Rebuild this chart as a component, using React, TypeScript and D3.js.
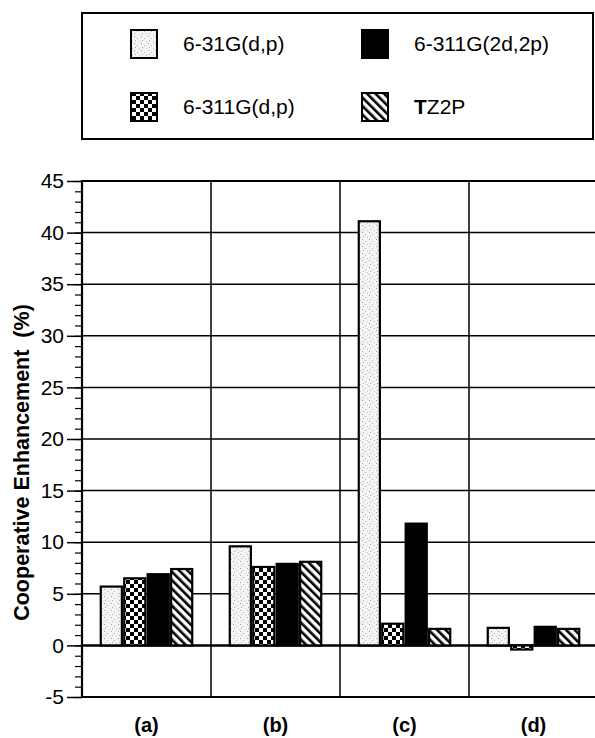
import React, { useEffect, useRef } from "react";
import * as d3 from "d3";

const categories = ["(a)", "(b)", "(c)", "(d)"];
const seriesNames = ["6-31G(d,p)", "6-311G(d,p)", "6-311G(2d,2p)", "TZ2P"];

const vals631 = [5.7, 9.6, 41.1, 1.7];
const vals6311 = [6.5, 7.6, 2.1, -0.4];
const vals6311big = [6.9, 7.9, 11.8, 1.8];
const valsTZ2P = [7.4, 8.1, 1.6, 1.6];

const yTicks = [-5, 0, 5, 10, 15, 20, 25, 30, 35, 40, 45];

const fills = ["url(#stipple)", "url(#checker)", "#000", "url(#stripes)"];

const App = () => {
  const axisRef = useRef<SVGGElement>(null);
  const minorRef = useRef<SVGGElement>(null);

  const width = 595;
  const height = 738;
  const left = 82;
  const right = 598;
  const top = 181;
  const bottom = 697;

  const y = d3.scaleLinear().domain([-5, 45]).range([bottom, top]);
  const x = d3.scaleBand().domain(categories).range([left, right]).padding(0);
  const xs = d3
    .scaleBand()
    .domain(seriesNames)
    .range([0, x.bandwidth()])
    .paddingInner(0.1)
    .paddingOuter(0.8);

  const table = categories.map((c, i) => ({
    cat: c,
    vals: [vals631[i], vals6311[i], vals6311big[i], valsTZ2P[i]],
  }));

  useEffect(() => {
    const g = d3.select(axisRef.current);
    g.selectAll("*").remove();
    g.call(
      d3
        .axisLeft(y)
        .tickValues(yTicks)
        .tickSize(15)
        .tickPadding(3)
        .tickFormat((d) => String(d))
    )
      .call((s) => s.select(".domain").remove())
      .call((s) => s.selectAll(".tick line").attr("stroke-width", 1.5))
      .call((s) =>
        s
          .selectAll(".tick text")
          .style("font-family", "Liberation Sans, Arial, sans-serif")
          .style("font-size", "21px")
          .attr("fill", "#000")
      );

    const m = d3.select(minorRef.current);
    m.selectAll("*").remove();
    m.call(d3.axisLeft(y).tickValues(d3.range(-5, 46, 1)).tickSize(7).tickFormat(() => ""))
      .call((s) => s.select(".domain").remove())
      .call((s) => s.selectAll(".tick line").attr("stroke-width", 1.2));
  }, []);

  const legendItems = [
    { name: seriesNames[0], fill: fills[0], x: 131, y: 30 },
    { name: seriesNames[1], fill: fills[1], x: 131, y: 93 },
    { name: seriesNames[2], fill: fills[2], x: 362, y: 30 },
    { name: seriesNames[3], fill: fills[3], x: 362, y: 93 },
  ];

  return (
    <svg
      width={width}
      height={height}
      style={{ position: "absolute", left: 0, top: 0, background: "#fff" }}
      fontFamily="Liberation Sans, Arial, sans-serif"
    >
      <defs>
        <pattern id="stipple" patternUnits="userSpaceOnUse" width="7" height="7">
          <rect width="7" height="7" fill="#f4f4f4" />
          <rect x="1" y="1" width="1" height="1" fill="#a0a0a0" />
          <rect x="4" y="3" width="1" height="1" fill="#b4b4b4" />
          <rect x="2" y="5" width="1" height="1" fill="#acacac" />
          <rect x="6" y="6" width="1" height="1" fill="#c4c4c4" />
        </pattern>
        <pattern id="checker" patternUnits="userSpaceOnUse" width="8" height="8">
          <rect width="8" height="8" fill="#fff" />
          <rect x="0" y="0" width="4" height="4" fill="#000" />
          <rect x="4" y="4" width="4" height="4" fill="#000" />
        </pattern>
        <pattern
          id="stripes"
          patternUnits="userSpaceOnUse"
          width="6"
          height="6"
          patternTransform="rotate(-45)"
        >
          <rect width="6" height="6" fill="#fff" />
          <rect x="0" y="0" width="2.6" height="6" fill="#000" />
        </pattern>
      </defs>

      {/* legend */}
      <rect x={82} y={13} width={511} height={126} fill="none" stroke="#000" strokeWidth={2} />
      {legendItems.map((d) => (
        <g key={d.name}>
          <rect x={d.x} y={d.y} width={26} height={28} fill={d.fill} stroke="#000" strokeWidth={2} />
          <text x={d.x + 52} y={d.y + 21} fontSize={21}>
            {d.name === "TZ2P" ? (
              <>
                <tspan fontWeight="bold">T</tspan>Z2P
              </>
            ) : (
              d.name
            )}
          </text>
        </g>
      ))}

      {/* grid */}
      {yTicks.map((t) => (
        <line
          key={t}
          x1={left}
          x2={right}
          y1={y(t)}
          y2={y(t)}
          stroke="#000"
          strokeWidth={t === 0 ? 2.5 : t === 45 || t === -5 ? 2 : 1.5}
        />
      ))}
      {categories.slice(1).map((c) => (
        <line key={c} x1={x(c)} x2={x(c)} y1={top} y2={bottom} stroke="#000" strokeWidth={1.5} />
      ))}

      {/* bars */}
      {table.map((row) => (
        <g key={row.cat} transform={`translate(${x(row.cat)},0)`}>
          {row.vals.map((v, i) => (
            <rect
              key={i}
              x={xs(seriesNames[i])}
              width={xs.bandwidth()}
              y={y(Math.max(0, v))}
              height={Math.abs(y(v) - y(0))}
              fill={fills[i]}
              stroke="#000"
              strokeWidth={2.2}
            />
          ))}
        </g>
      ))}

      {/* axes */}
      <line x1={left} x2={left} y1={top - 1} y2={bottom + 1} stroke="#000" strokeWidth={2.2} />
      <g ref={minorRef} transform={`translate(${left},0)`} />
      <g ref={axisRef} transform={`translate(${left},0)`} />

      {categories.map((c) => (
        <text
          key={c}
          x={(x(c) ?? 0) + x.bandwidth() / 2}
          y={732}
          textAnchor="middle"
          fontSize={20}
          fontWeight="bold"
        >
          {c}
        </text>
      ))}

      <text
        transform={`translate(29,${(303 + 622) / 2}) rotate(-90)`}
        textAnchor="middle"
        fontSize={21.5}
        fontWeight="bold"
      >
        Cooperative Enhancement{"\u00a0\u00a0"}(%)
      </text>
    </svg>
  );
};

export default App;
